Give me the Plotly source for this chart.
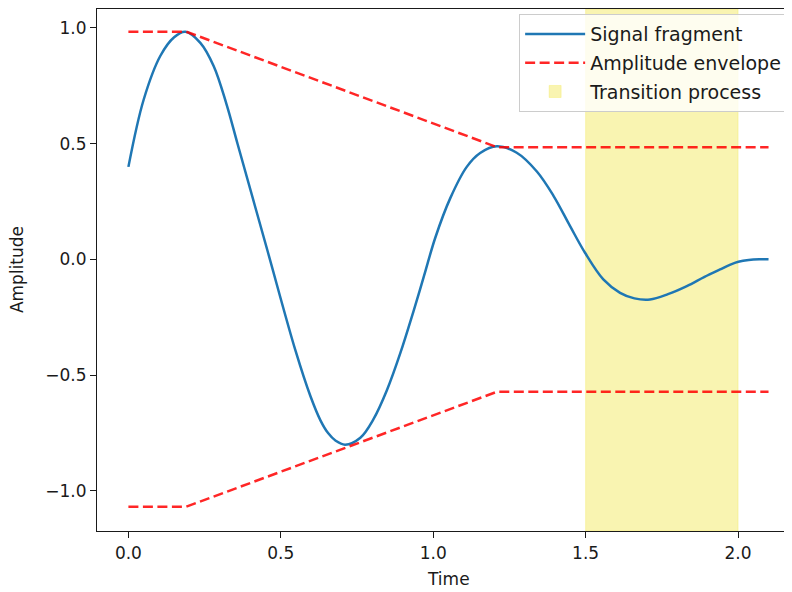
import plotly.graph_objects as go

# ---- data ----
signal_t = [0.000, 0.050, 0.105, 0.150, 0.187, 0.236, 0.280, 0.322, 0.358, 0.455,
            0.548, 0.597, 0.630, 0.655, 0.680, 0.711, 0.761, 0.804, 0.848, 0.892,
            0.935, 0.970, 1.007, 1.056, 1.110, 1.154, 1.209, 1.274, 1.340, 1.395,
            1.449, 1.498, 1.558, 1.613, 1.660, 1.711, 1.770, 1.832, 1.890, 1.941,
            1.975, 2.001, 2.035, 2.070, 2.100]
signal_v = [0.400, 0.690, 0.880, 0.960, 0.984, 0.936, 0.835, 0.670, 0.500, 0.044,
            -0.393, -0.590, -0.695, -0.750, -0.783, -0.800, -0.770, -0.690, -0.565, -0.405,
            -0.225, -0.070, 0.095, 0.265, 0.400, 0.460, 0.489, 0.461, 0.380, 0.274,
            0.144, 0.029, -0.086, -0.144, -0.168, -0.173, -0.150, -0.115, -0.075, -0.043,
            -0.022, -0.010, -0.002, 0.001, 0.001]

env_t = [0.0, 0.19, 1.21, 2.1]
env_upper = [0.984, 0.984, 0.485, 0.485]
env_lower = [-1.068, -1.068, -0.571, -0.571]

band_start, band_end = 1.5, 2.0

x_ticks = [0.0, 0.5, 1.0, 1.5, 2.0]
x_tick_text = ["0.0", "0.5", "1.0", "1.5", "2.0"]
y_ticks = [-1.0, -0.5, 0.0, 0.5, 1.0]
y_tick_text = ["\u22121.0", "\u22120.5", "0.0", "0.5", "1.0"]

FONT = "DejaVu Sans"
FS = 17
LFS = 19
TXT = "#1a1a1a"

fig = go.Figure()

fig.add_trace(go.Scatter(
    x=signal_t, y=signal_v, mode="lines", name="Signal fragment",
    line=dict(color="#1f77b4", width=2.5, shape="spline", smoothing=1.0),
    legendgroup="a", legendrank=1,
))

fig.add_trace(go.Scatter(
    x=env_t + [None] + env_t, y=env_upper + [None] + env_lower,
    mode="lines", name="Amplitude envelope", connectgaps=False,
    line=dict(color="rgba(255,0,0,0.85)", width=2.5, dash="10px,4.5px"),
    legendgroup="b", legendrank=2,
))

fig.add_shape(
    type="rect", xref="x", yref="paper", x0=band_start, x1=band_end, y0=0, y1=1,
    fillcolor="rgba(240,228,60,0.40)", line=dict(color="rgba(240,228,60,0.30)", width=1),
    layer="below", showlegend=True, name="Transition process",
    legendgroup="c", legendrank=3,
)

# The page body has an 8px default margin; size the figure so it fits the window.
fig.update_layout(
    width=784, height=584,
    margin=dict(l=89, r=0, t=1, b=61),
    paper_bgcolor="white", plot_bgcolor="white",
    font=dict(family=FONT, size=FS, color=TXT),
    showlegend=True,
    legend=dict(
        x=0.993, y=0.990, xanchor="right", yanchor="top",
        bgcolor="rgba(255,255,255,0.8)", bordercolor="#cccccc", borderwidth=1,
        font=dict(family=FONT, size=LFS, color=TXT),
        tracegroupgap=1, itemwidth=60,
    ),
    xaxis=dict(
        range=[-0.103, 2.177], showgrid=False, zeroline=False, automargin=False,
        showline=True, linecolor=TXT, linewidth=1.2, mirror=True,
        ticks="outside", ticklen=6, tickwidth=1.2, tickcolor=TXT,
        tickvals=x_ticks, ticktext=x_tick_text,
        tickfont=dict(family=FONT, size=FS, color=TXT),
    ),
    yaxis=dict(
        range=[-1.173, 1.082], showgrid=False, zeroline=False, automargin=False,
        showline=True, linecolor=TXT, linewidth=1.2, mirror=False,
        ticks="outside", ticklen=6, tickwidth=1.2, tickcolor=TXT,
        tickvals=y_ticks, ticktext=y_tick_text,
        tickfont=dict(family=FONT, size=FS, color=TXT),
    ),
    annotations=[
        dict(text="Time", xref="x", yref="paper", x=1.051, y=-0.092,
             xanchor="center", yanchor="middle", showarrow=False,
             font=dict(family=FONT, size=FS, color=TXT)),
        dict(text="Amplitude", xref="paper", yref="paper", x=-0.115, y=0.5,
             xanchor="center", yanchor="middle", showarrow=False, textangle=-90,
             font=dict(family=FONT, size=FS, color=TXT)),
    ],
)

fig.write_html("out.html")
